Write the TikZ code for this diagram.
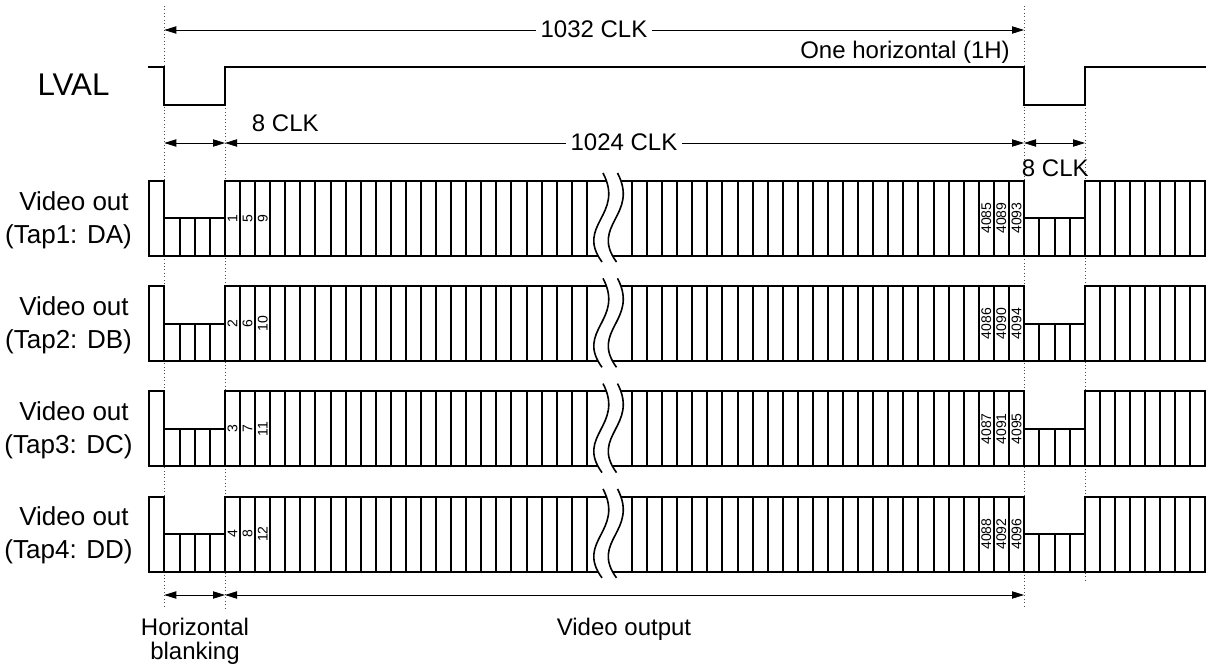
\documentclass[tikz,border=0pt]{standalone}
\usepackage{fontspec}
\setmainfont{Liberation Sans}
\usetikzlibrary{arrows.meta}
\begin{document}
\begin{tikzpicture}[x=0.75pt,y=-0.75pt,
  wave/.style={line width=1.5pt, line join=miter, line cap=rect},
  brk/.style={line width=1.2pt},
  dim/.style={line width=0.6pt, {Triangle[length=9pt,width=5.5pt]}-{Triangle[length=9pt,width=5.5pt]}},
  guide/.style={line width=0.6pt, black!70, dotted},
  lbl/.style={font=\fontsize{18}{21}\selectfont, inner sep=0pt},
  cut/.style={lbl, fill=white, inner xsep=3.8pt, inner ysep=1pt},
  rowlbl/.style={font=\fontsize{19.5}{23}\selectfont, inner sep=0pt, anchor=base},
  num/.style={font=\fontsize{10.5}{12}\selectfont, inner sep=0pt, rotate=90}]
\useasboundingbox (0,0) rectangle (1207,667);

% guide lines
\coordinate (gA0) at (164.3,6);   \coordinate (gA1) at (164.3,608);
\coordinate (gB0) at (225,105);   \coordinate (gB1) at (225,608);
\coordinate (gC0) at (1024,6);    \coordinate (gC1) at (1024,608);
\coordinate (gD0) at (1085,105);  \coordinate (gD1) at (1085,580);
\draw[guide] (gA0) -- (gA1);
\draw[guide] (gB0) -- (gB1);
\draw[guide] (gC0) -- (gC1);
\draw[guide] (gD0) -- (gD1);

% 1032 CLK
\coordinate (t1) at (164.3,30); \coordinate (t2) at (1024,30);
\draw[dim] (t1) -- (t2);
\node[cut, anchor=base] (clk1032) at (594,37.3) {1032 CLK};

% LVAL
\node[font=\fontsize{23.5}{26}\selectfont, inner sep=0pt, anchor=base] (lval) at (73.5,96) {LVAL};
\draw[wave] (149.3,67) -- (164.3,67) -- (164.3,105) -- (225,105) -- (225,67) -- (1024,67)
  -- (1024,105) -- (1085,105) -- (1085,67) -- (1205,67);
\node[lbl, anchor=base east] (oneh) at (1010,58.3) {One horizontal (1H)};

% 8 CLK / 1024 CLK
\coordinate (m1) at (164.3,143); \coordinate (m2) at (225,143);
\coordinate (m3) at (1024,143);  \coordinate (m4) at (1085,143);
\draw[dim] (m1) -- (m2);
\draw[dim] (m2) -- (m3);
\draw[dim] (m3) -- (m4);
\node[lbl, anchor=base west] (clk8a) at (251.7,131.7) {8 CLK};
\node[cut, anchor=base] (clk1024) at (624,150) {1024 CLK};
\node[lbl, anchor=base west] (clk8b) at (1021.7,176.7) {8 CLK};

% rows
\foreach \r/\na/\nb/\nc/\nd/\ne/\nf/\tp in {0/1/5/9/4085/4089/4093/1: DA,1/2/6/10/4086/4090/4094/2: DB,2/3/7/11/4087/4091/4095/3: DC,3/4/8/12/4088/4092/4096/4: DD}{
  \pgfmathsetmacro{\T}{180.7+\r*105.3}
  \pgfmathsetmacro{\B}{\T+75}
  \pgfmathsetmacro{\M}{\T+37.5}
  \node[rowlbl] at (74,\M-8.2) {Video out};
  \node[rowlbl] at (68.5,\M+24.8) {(Tap\tp)};
  % left pulse + blanking
  \draw[wave] (149.3,\B) -- (149.3,\T) -- (164.3,\T) -- (164.3,\B);
  \draw[wave] (164.3,\M) -- (225,\M);
  \foreach \x in {179.5,194.7,209.8} \draw[wave] (\x,\M) -- (\x,\B);
  % video region
  \draw[wave] (225,\B) -- (225,\T) -- (1024,\T) -- (1024,\B);
  \foreach \k in {1,...,24} \draw[wave] ({225+\k*15.075},\T) -- ({225+\k*15.075},\B);
  \foreach \k in {27,...,52} \draw[wave] ({225+\k*15.075},\T) -- ({225+\k*15.075},\B);
  % right blanking
  \draw[wave] (1024,\M) -- (1085,\M);
  \foreach \x in {1039.25,1054.5,1069.75} \draw[wave] (\x,\M) -- (\x,\B);
  % right high cells
  \draw[wave] (1085,\B) -- (1085,\T) -- (1205,\T) -- (1205,\B);
  \foreach \k in {1,...,7} \draw[wave] ({1085+\k*15},\T) -- ({1085+\k*15},\B);
  % bottom
  \draw[wave] (149.3,\B) -- (1205,\B);
  % break
  \fill[white] (603,\T-7.7) .. controls (625,\T+34.3) and (575,\T+44.3) .. (602,\B+6.3)
     -- (616.5,\B+6.3) .. controls (589.5,\T+44.3) and (639.5,\T+34.3) .. (617.5,\T-7.7) -- cycle;
  \draw[brk] (603,\T-7.7) .. controls (625,\T+34.3) and (575,\T+44.3) .. (602,\B+6.3);
  \draw[brk] (617.5,\T-7.7) .. controls (639.5,\T+34.3) and (589.5,\T+44.3) .. (616.5,\B+6.3);
  % numbers
  \node[num] at ({225+0.5*15.075},\M) {\na};
  \node[num] at ({225+1.5*15.075},\M) {\nb};
  \node[num] at ({225+2.5*15.075},\M) {\nc};
  \node[num] at ({1024-2.5*15.075},\M) {\nd};
  \node[num] at ({1024-1.5*15.075},\M) {\ne};
  \node[num] at ({1024-0.5*15.075},\M) {\nf};
}

% bottom dimension
\coordinate (b1) at (164.3,595); \coordinate (b2) at (225,595); \coordinate (b3) at (1024,595);
\draw[dim] (b1) -- (b2);
\draw[dim] (b2) -- (b3);
\node[lbl, anchor=base] (hb1) at (195,635) {Horizontal};
\node[lbl, anchor=base] (hb2) at (195,659) {blanking};
\node[lbl, anchor=base] (vo) at (624,635) {Video output};
\end{tikzpicture}
\end{document}
